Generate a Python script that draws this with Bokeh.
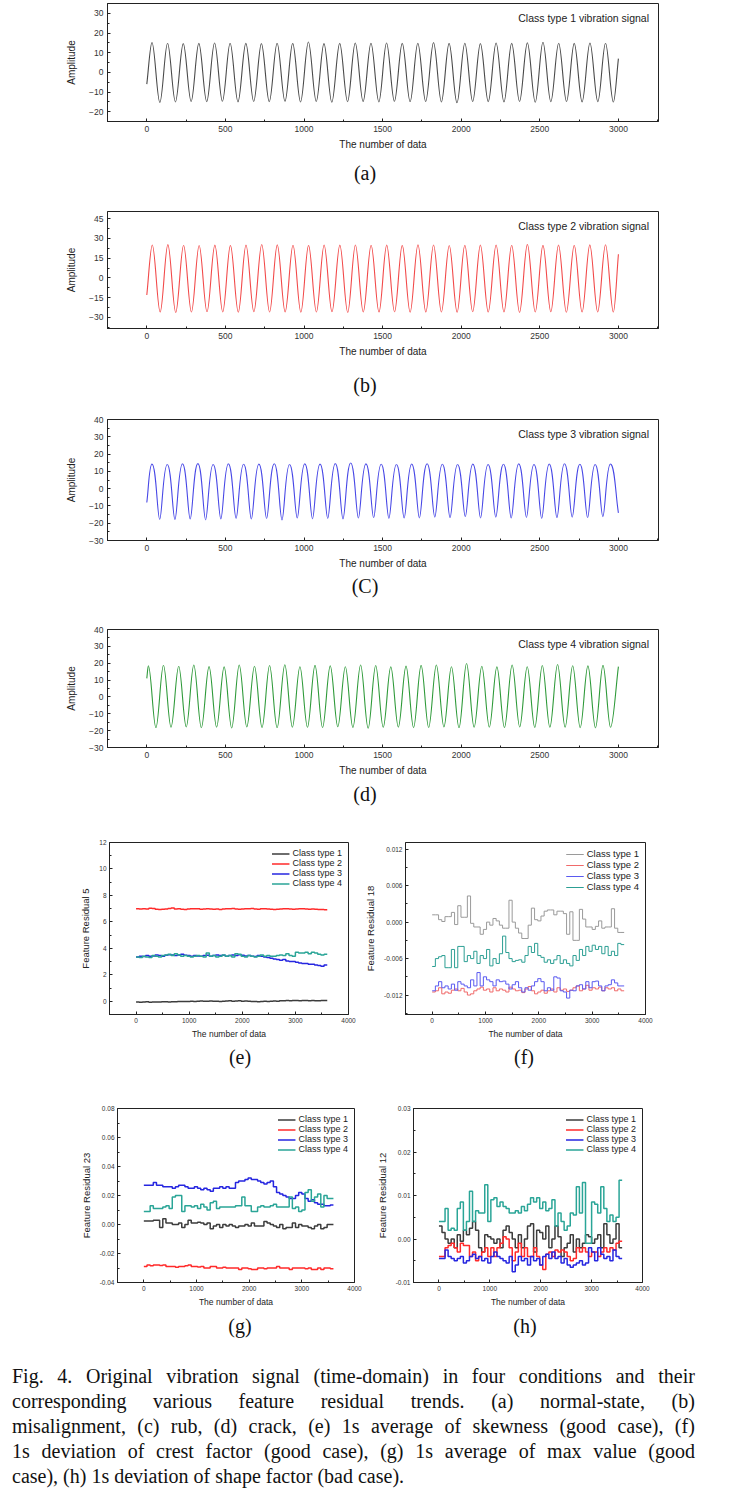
from bokeh.plotting import figure
from bokeh.models import Range1d, FixedTicker, PrintfTickFormatter, Legend, LegendItem, Div
from bokeh.layouts import column, row
from bokeh.embed import file_html
from bokeh.resources import INLINE

# ---------------- data: time-domain signals (extremes) ----------------
a_start, a_end = (0, -6), (3000, 7)
a_peak_x = [33, 132, 232, 331, 431, 530, 630, 729, 829, 928, 1028, 1127, 1227, 1326, 1426,
            1525, 1625, 1724, 1824, 1923, 2023, 2122, 2222, 2321, 2421, 2520, 2620, 2719, 2819, 2918]
a_peak_y = [15.2, 14.8, 14.6, 14.7, 14.9, 14.8, 14.7, 14.6, 14.8, 14.7, 15.4, 14.6, 14.7, 14.9, 14.8,
            14.9, 14.7, 14.8, 15.1, 14.7, 14.8, 14.6, 14.9, 14.7, 15.0, 15.3, 14.8, 14.7, 14.9, 14.8]
a_trough_x = [83, 182, 282, 381, 481, 580, 680, 779, 879, 978, 1078, 1177, 1277, 1376, 1476,
              1575, 1675, 1774, 1874, 1973, 2073, 2172, 2272, 2371, 2471, 2570, 2670, 2769, 2869, 2968]
a_trough_y = [-15.3, -15.0, -14.8, -14.9, -14.7, -15.0, -14.8, -14.9, -14.7, -15.0, -14.8, -15.2, -14.9, -14.8, -15.0,
              -14.7, -14.9, -14.8, -15.0, -15.5, -14.8, -14.9, -15.1, -14.8, -15.2, -14.9, -14.8, -15.0, -14.9, -15.1]

b_start, b_end = (0, -13), (3000, 18)
b_peak_x = [35, 134, 234, 333, 433, 532, 631, 731, 830, 930, 1029, 1128, 1228, 1327, 1427,
            1526, 1625, 1725, 1824, 1924, 2023, 2122, 2222, 2321, 2421, 2520, 2619, 2719, 2818, 2918]
b_peak_y = [25.0, 25.3, 24.8, 24.6, 24.9, 24.7, 25.0, 25.4, 25.1, 24.8, 24.7, 25.0, 24.9, 25.0, 24.8,
            24.9, 24.7, 25.2, 25.0, 24.6, 24.8, 24.9, 25.0, 24.8, 25.5, 24.7, 24.9, 24.8, 25.1, 25.2]
b_trough_x = [85, 184, 284, 383, 483, 582, 681, 781, 880, 980, 1079, 1178, 1278, 1377, 1477,
              1576, 1675, 1775, 1874, 1974, 2073, 2172, 2272, 2371, 2471, 2570, 2669, 2769, 2868, 2968]
b_trough_y = [-26.0, -26.3, -26.0, -25.8, -25.9, -26.1, -25.8, -26.0, -25.9, -26.1, -26.0, -25.8, -26.2, -25.9, -26.0,
              -25.8, -26.1, -26.0, -25.9, -26.1, -25.8, -26.0, -25.9, -26.2, -26.0, -25.8, -26.1, -26.0, -25.9, -26.0]

c_start, c_end = (0, -8), (3000, -14)
c_peak_x = [33, 130, 227, 325, 422, 519, 616, 713, 811, 908, 1005, 1102, 1199, 1297, 1394, 1491,
            1588, 1685, 1783, 1880, 1977, 2074, 2171, 2269, 2366, 2463, 2560, 2657, 2755, 2852, 2949]
c_peak_y = [14.2, 14.0, 14.3, 14.5, 14.0, 14.3, 14.1, 14.2, 14.4, 14.0, 14.3, 14.2, 14.5, 14.8, 14.3, 14.1,
            14.0, 14.2, 14.4, 14.1, 14.0, 14.2, 14.0, 14.1, 14.3, 14.0, 14.2, 14.4, 14.1, 14.0, 14.2]
c_trough_x = [82, 179, 276, 374, 471, 568, 665, 762, 860, 957, 1054, 1151, 1248, 1346, 1443,
              1540, 1637, 1734, 1832, 1929, 2026, 2123, 2220, 2318, 2415, 2512, 2609, 2706, 2804, 2901]
c_trough_y = [-17.8, -17.9, -17.6, -18.0, -17.5, -17.2, -17.6, -17.3, -18.1, -17.0, -17.4, -17.2, -17.5, -17.0, -16.8,
              -17.2, -17.0, -16.9, -16.5, -16.8, -16.2, -16.9, -16.5, -17.0, -16.6, -17.2, -16.8, -16.5, -16.7, -16.2]

d_start, d_end = (0, 11), (3000, 18)
d_peak_x = [10, 106, 203, 299, 396, 492, 588, 685, 781, 878, 974, 1070, 1167, 1263, 1360, 1456,
            1552, 1649, 1745, 1842, 1938, 2034, 2131, 2227, 2324, 2420, 2516, 2613, 2709, 2806, 2902]
d_peak_y = [18.5, 18.8, 18.2, 18.9, 18.0, 17.8, 18.9, 18.2, 18.6, 19.1, 17.9, 18.7, 18.4, 17.9, 18.9, 18.6,
            17.8, 18.3, 18.7, 18.9, 17.9, 19.8, 18.2, 17.8, 18.9, 17.9, 18.6, 19.2, 18.5, 18.4, 18.7]
d_trough_x = [58, 154, 251, 347, 444, 540, 636, 733, 829, 926, 1022, 1118, 1215, 1311, 1408, 1504,
              1600, 1697, 1793, 1890, 1986, 2082, 2179, 2275, 2372, 2468, 2564, 2661, 2757, 2854, 2950]
d_trough_y = [-18.2, -18.0, -17.8, -18.3, -17.9, -18.4, -17.8, -18.1, -18.3, -17.9, -18.0, -18.2, -17.7, -18.1, -18.6, -18.0,
              -17.9, -18.2, -18.1, -17.8, -18.3, -18.0, -17.9, -18.2, -17.8, -18.1, -18.0, -17.9, -18.2, -18.3, -18.0]

# ---------------- data: feature residual trends (one value per 60-sample step) ----------------
step_edges = list(range(0, 3601, 60))

e_c1 = [-0.05, -0.08, -0.05, -0.04, -0.08, -0.06, -0.05, -0.06, -0.04, -0.03, -0.05, -0.04, -0.03, -0.02, -0.01,
        -0.02, -0.01, 0.00, -0.02, 0.01, 0.02, 0.00, 0.01, 0.02, 0.01, 0.00, -0.01, 0.01, 0.02, 0.03,
        0.01, 0.02, 0.03, 0.01, 0.02, 0.00, -0.02, -0.01, -0.03, -0.02, 0.00, -0.01, 0.01, 0.02, 0.00,
        0.03, 0.04, 0.05, 0.03, 0.05, 0.06, 0.04, 0.06, 0.05, 0.04, 0.05, 0.03, 0.04, 0.06, 0.05]
e_c2 = [7.00, 6.98, 7.00, 6.97, 7.03, 7.02, 6.95, 6.93, 6.96, 6.98, 7.02, 7.04, 6.98, 7.00, 6.95,
        6.93, 6.97, 7.00, 6.99, 7.00, 6.96, 6.98, 7.00, 6.97, 6.95, 6.98, 6.93, 6.97, 6.99, 7.00,
        7.01, 6.98, 6.95, 6.97, 6.99, 7.00, 7.01, 6.98, 6.96, 6.99, 7.00, 6.97, 6.95, 6.93, 6.96,
        6.98, 7.00, 6.99, 6.97, 6.96, 6.98, 7.00, 6.99, 6.97, 6.96, 6.98, 6.95, 6.93, 6.94, 6.92]
e_c3 = [3.35, 3.40, 3.38, 3.45, 3.40, 3.42, 3.50, 3.45, 3.40, 3.48, 3.52, 3.50, 3.45, 3.50, 3.55,
        3.48, 3.45, 3.40, 3.45, 3.42, 3.40, 3.45, 3.48, 3.40, 3.45, 3.50, 3.45, 3.48, 3.40, 3.45,
        3.50, 3.45, 3.52, 3.48, 3.42, 3.45, 3.40, 3.38, 3.45, 3.40, 3.35, 3.30, 3.25, 3.20, 3.15,
        3.10, 3.15, 3.05, 3.00, 3.00, 2.95, 2.90, 2.85, 2.85, 2.80, 2.80, 2.75, 2.70, 2.65, 2.75]
e_c4 = [3.35, 3.30, 3.40, 3.35, 3.30, 3.45, 3.40, 3.35, 3.45, 3.50, 3.55, 3.45, 3.60, 3.50, 3.40,
        3.45, 3.40, 3.35, 3.40, 3.45, 3.40, 3.35, 3.65, 3.40, 3.45, 3.35, 3.40, 3.50, 3.40, 3.45,
        3.35, 3.60, 3.55, 3.40, 3.35, 3.45, 3.40, 3.35, 3.40, 3.50, 3.40, 3.45, 3.40, 3.40, 3.45,
        3.50, 3.45, 3.60, 3.45, 3.40, 3.70, 3.65, 3.65, 3.70, 3.60, 3.70, 3.65, 3.55, 3.50, 3.55]

f_c1 = [0.0012, 0.0012, 0.0004, 0.0001, 0.0009, 0.0009, 0.0016, -0.0004, 0.0027, 0.0008, 0.0008, 0.0043,
        -0.0002, -0.0008, -0.0008, -0.0020, -0.0012, 0.0000, -0.0005, 0.0006, 0.0002, -0.0005, -0.0010, -0.0010,
        0.0036, 0.0000, -0.0010, -0.0018, -0.0027, -0.0027, -0.0005, 0.0023, 0.0004, 0.0002, 0.0010, 0.0018,
        0.0020, 0.0020, 0.0012, 0.0018, 0.0018, 0.0014, -0.0020, 0.0017, -0.0030, -0.0030, 0.0021, 0.0005,
        -0.0008, -0.0008, -0.0012, -0.0007, 0.0002, -0.0010, -0.0008, -0.0008, 0.0022, -0.0010, -0.0017, -0.0017]
f_c2 = [-0.0115, -0.0113, -0.0108, -0.0118, -0.0115, -0.0117, -0.0112, -0.0110, -0.0113, -0.0109, -0.0115, -0.0120,
        -0.0118, -0.0113, -0.0110, -0.0107, -0.0112, -0.0110, -0.0115, -0.0108, -0.0113, -0.0110, -0.0112, -0.0115,
        -0.0107, -0.0110, -0.0113, -0.0112, -0.0116, -0.0110, -0.0106, -0.0113, -0.0118, -0.0115, -0.0112, -0.0117,
        -0.0113, -0.0110, -0.0115, -0.0108, -0.0112, -0.0110, -0.0114, -0.0112, -0.0108, -0.0105, -0.0113, -0.0110,
        -0.0104, -0.0112, -0.0108, -0.0110, -0.0107, -0.0113, -0.0108, -0.0110, -0.0108, -0.0113, -0.0110, -0.0113]
f_c3 = [-0.0113, -0.0105, -0.0098, -0.0108, -0.0105, -0.0110, -0.0102, -0.0112, -0.0098, -0.0102, -0.0105, -0.0108,
        -0.0095, -0.0105, -0.0083, -0.0105, -0.0090, -0.0095, -0.0098, -0.0105, -0.0095, -0.0098, -0.0097, -0.0102,
        -0.0110, -0.0103, -0.0098, -0.0108, -0.0115, -0.0108, -0.0112, -0.0105, -0.0098, -0.0093, -0.0098, -0.0113,
        -0.0108, -0.0112, -0.0090, -0.0092, -0.0113, -0.0115, -0.0125, -0.0112, -0.0113, -0.0105, -0.0103, -0.0110,
        -0.0098, -0.0108, -0.0098, -0.0097, -0.0105, -0.0113, -0.0105, -0.0103, -0.0095, -0.0100, -0.0105, -0.0105]
f_c4 = [-0.0073, -0.0060, -0.0057, -0.0055, -0.0075, -0.0075, -0.0045, -0.0075, -0.0040, -0.0040, -0.0065, -0.0055,
        -0.0060, -0.0048, -0.0068, -0.0055, -0.0060, -0.0045, -0.0072, -0.0060, -0.0068, -0.0052, -0.0023, -0.0050,
        -0.0060, -0.0065, -0.0063, -0.0062, -0.0066, -0.0055, -0.0040, -0.0050, -0.0035, -0.0055, -0.0058, -0.0066,
        -0.0062, -0.0068, -0.0062, -0.0055, -0.0068, -0.0062, -0.0068, -0.0072, -0.0055, -0.0063, -0.0045, -0.0055,
        -0.0040, -0.0048, -0.0038, -0.0045, -0.0040, -0.0052, -0.0040, -0.0055, -0.0048, -0.0055, -0.0035, -0.0037]

g_c1 = [0.0025, 0.0025, 0.0025, 0.0030, 0.0030, -0.0020, 0.0040, 0.0010, 0.0010, 0.0000, 0.0000, 0.0010,
        -0.0020, 0.0000, 0.0030, 0.0010, 0.0010, 0.0015, 0.0010, 0.0000, 0.0010, -0.0030, -0.0010, 0.0000,
        -0.0020, 0.0000, -0.0010, 0.0000, -0.0010, -0.0020, -0.0010, -0.0010, 0.0000, -0.0010, 0.0010, -0.0010,
        -0.0010, -0.0010, 0.0020, 0.0010, 0.0000, -0.0010, -0.0020, 0.0000, -0.0030, -0.0020, -0.0020, 0.0010,
        -0.0020, 0.0000, -0.0010, -0.0010, -0.0020, -0.0030, -0.0010, 0.0000, -0.0030, -0.0020, 0.0000, 0.0000]
g_c2 = [-0.0290, -0.0280, -0.0285, -0.0280, -0.0280, -0.0283, -0.0280, -0.0290, -0.0290, -0.0290, -0.0295, -0.0290,
        -0.0290, -0.0285, -0.0280, -0.0290, -0.0290, -0.0293, -0.0290, -0.0300, -0.0300, -0.0290, -0.0290, -0.0300,
        -0.0300, -0.0295, -0.0300, -0.0300, -0.0300, -0.0300, -0.0310, -0.0300, -0.0300, -0.0305, -0.0310, -0.0310,
        -0.0300, -0.0300, -0.0305, -0.0300, -0.0300, -0.0300, -0.0290, -0.0300, -0.0300, -0.0300, -0.0310, -0.0300,
        -0.0300, -0.0300, -0.0300, -0.0305, -0.0300, -0.0310, -0.0310, -0.0300, -0.0310, -0.0300, -0.0300, -0.0305]
g_c3 = [0.027, 0.027, 0.027, 0.029, 0.027, 0.027, 0.026, 0.026, 0.026, 0.025, 0.026, 0.027,
        0.027, 0.026, 0.025, 0.025, 0.026, 0.025, 0.024, 0.025, 0.024, 0.023, 0.025, 0.025,
        0.026, 0.025, 0.026, 0.025, 0.025, 0.029, 0.030, 0.030, 0.031, 0.032, 0.031, 0.031,
        0.030, 0.029, 0.028, 0.029, 0.030, 0.026, 0.022, 0.021, 0.020, 0.019, 0.018, 0.018,
        0.020, 0.022, 0.021, 0.018, 0.016, 0.017, 0.015, 0.014, 0.014, 0.013, 0.013, 0.0135]
g_c4 = [0.009, 0.009, 0.013, 0.011, 0.011, 0.011, 0.012, 0.013, 0.011, 0.019, 0.020, 0.020,
        0.009, 0.013, 0.013, 0.012, 0.013, 0.011, 0.014, 0.012, 0.010, 0.015, 0.016, 0.011,
        0.012, 0.012, 0.012, 0.012, 0.012, 0.013, 0.013, 0.019, 0.013, 0.013, 0.009, 0.009,
        0.012, 0.013, 0.012, 0.012, 0.013, 0.014, 0.012, 0.012, 0.012, 0.012, 0.019, 0.011,
        0.012, 0.009, 0.010, 0.022, 0.024, 0.016, 0.019, 0.021, 0.012, 0.020, 0.018, 0.018]

h_c1 = [0.0030, 0.0015, 0.0000, -0.0010, 0.0000, -0.0020, 0.0010, -0.0005, 0.0020, 0.0010, 0.0025, 0.0040,
        0.0020, -0.0020, -0.0030, 0.0010, 0.0005, 0.0000, -0.0010, 0.0000, -0.0020, 0.0020, 0.0030, 0.0015,
        0.0000, -0.0020, 0.0010, -0.0020, 0.0000, 0.0030, 0.0035, -0.0030, 0.0020, 0.0015, 0.0000, 0.0030,
        -0.0020, 0.0000, 0.0030, 0.0005, -0.0040, -0.0020, -0.0010, 0.0010, -0.0030, 0.0000, -0.0020, -0.0010,
        0.0010, 0.0005, -0.0010, 0.0000, 0.0010, -0.0020, 0.0035, 0.0010, -0.0010, 0.0000, 0.0035, -0.0020]
h_c2 = [-0.0040, -0.0040, -0.0020, -0.0015, -0.0010, -0.0020, -0.0030, -0.0010, -0.0015, -0.0015, -0.0040, -0.0030,
        -0.0050, -0.0040, -0.0030, -0.0020, -0.0040, -0.0020, -0.0040, -0.0020, -0.0010, 0.0005, 0.0000, -0.0020,
        -0.0050, -0.0030, -0.0010, -0.0040, -0.0020, -0.0040, -0.0040, -0.0020, -0.0040, -0.0060, -0.0070, -0.0035,
        -0.0030, -0.0040, -0.0025, -0.0030, -0.0025, -0.0030, -0.0040, -0.0050, -0.0045, -0.0020, -0.0030, -0.0020,
        -0.0030, -0.0040, -0.0030, -0.0030, -0.0040, -0.0030, -0.0020, -0.0030, -0.0020, -0.0025, -0.0010, -0.0005]
h_c3 = [-0.0045, -0.0045, -0.0025, -0.0040, -0.0045, -0.0050, -0.0045, -0.0040, -0.0055, -0.0050, -0.0040, -0.0035,
        -0.0045, -0.0040, -0.0050, -0.0045, -0.0055, -0.0040, -0.0030, -0.0040, -0.0045, -0.0050, -0.0055, -0.0040,
        -0.0075, -0.0060, -0.0040, -0.0050, -0.0045, -0.0060, -0.0040, -0.0050, -0.0045, -0.0060, -0.0040, -0.0035,
        -0.0045, -0.0030, -0.0045, -0.0040, -0.0055, -0.0045, -0.0060, -0.0065, -0.0060, -0.0055, -0.0050, -0.0060,
        -0.0055, -0.0020, -0.0030, -0.0050, -0.0020, -0.0035, -0.0045, -0.0040, -0.0050, -0.0025, -0.0040, -0.0045]
h_c4 = [0.0040, 0.0040, 0.0070, 0.0020, 0.0025, 0.0020, 0.0070, 0.0085, 0.0020, 0.0040, 0.0110, 0.0040,
        0.0065, 0.0060, 0.0060, 0.0125, 0.0040, 0.0090, 0.0095, 0.0075, 0.0085, 0.0075, 0.0070, 0.0060,
        0.0060, 0.0065, 0.0060, 0.0075, 0.0065, 0.0080, 0.0095, 0.0085, 0.0095, 0.0070, 0.0085, 0.0065,
        0.0070, 0.0090, 0.0030, 0.0060, 0.0040, 0.0020, 0.0030, 0.0060, 0.0055, 0.0120, 0.0060, 0.0130,
        -0.0010, -0.0010, 0.0085, 0.0080, 0.0060, 0.0120, 0.0070, 0.0040, 0.0055, 0.0040, 0.0050, 0.0135]

class_labels = ["Class type 1", "Class type 2", "Class type 3", "Class type 4"]
signal_labels = ["Class type 1 vibration signal", "Class type 2 vibration signal",
                 "Class type 3 vibration signal", "Class type 4 vibration signal"]
panel_tags = ["(a)", "(b)", "(C)", "(d)", "(e)", "(f)", "(g)", "(h)"]
caption_lines = [
    "Fig. 4. Original vibration signal (time-domain) in four conditions and their",
    "corresponding various feature residual trends. (a) normal-state, (b)",
    "misalignment, (c) rub, (d) crack, (e) 1s average of skewness (good case), (f)",
    "1s deviation of crest factor (good case), (g) 1s average of max value (good",
    "case), (h) 1s deviation of shape factor (bad case).",
]

SANS = "Liberation Sans"
SERIF = "Liberation Serif"
PAGE_W = 731
HOST = {"margin": "0", "padding": "0", "overflow": "hidden", "line-height": "0", "font-size": "0"}


def style_fig(p, tick_px, label_px, tick_std, lab_std_x, lab_std_y):
    p.xgrid.visible = False
    p.ygrid.visible = False
    p.outline_line_color = "#222222"
    p.outline_line_width = 1
    p.background_fill_color = "white"
    p.border_fill_color = "white"
    for ax in (p.xaxis[0], p.yaxis[0]):
        ax.axis_line_color = "#222222"
        ax.major_tick_line_color = "#222222"
        ax.minor_tick_line_color = "#222222"
        ax.major_tick_in = 3
        ax.major_tick_out = 0
        ax.minor_tick_in = 2
        ax.minor_tick_out = 0
        ax.major_label_text_font = SANS
        ax.major_label_text_font_size = tick_px
        ax.major_label_text_color = "#333333"
        ax.major_label_standoff = tick_std
        ax.axis_label_text_font = SANS
        ax.axis_label_text_font_size = label_px
        ax.axis_label_text_font_style = "normal"
        ax.axis_label_text_color = "#222222"
    p.xaxis.axis_label_standoff = lab_std_x
    p.yaxis.axis_label_standoff = lab_std_y


def make_fig(w, h, mbl, mbr, mbt, mbb, xr, yr):
    p = figure(width=w, height=h, x_range=Range1d(*xr), y_range=Range1d(*yr),
               output_backend="svg", toolbar_location=None, margin=0,
               min_border_left=mbl, min_border_right=mbr,
               min_border_top=mbt, min_border_bottom=mbb)
    return p


def wave_points(start, px, py, tx, ty, end):
    pts = [start]
    for i in range(max(len(px), len(tx))):
        if i < len(px):
            pts.append((px[i], py[i]))
        if i < len(tx):
            pts.append((tx[i], ty[i]))
    pts.append(end)
    return pts


def draw_wave(p, pts, color, f_peak=0.36, f_trough=0.36):
    seg = dict(x0=[], y0=[], x1=[], y1=[], cx0=[], cy0=[], cx1=[], cy1=[])
    n = len(pts)
    for i in range(n - 1):
        (xa, ya), (xb, yb) = pts[i], pts[i + 1]
        dx = xb - xa
        if i == 0:
            c0 = (xa + dx / 3, ya + (yb - ya) / 3)
        else:
            f = f_peak if ya > yb else f_trough
            c0 = (xa + f * dx, ya)
        if i + 1 == n - 1:
            c1 = (xb - dx / 3, yb - (yb - ya) / 3)
        else:
            f = f_peak if yb > ya else f_trough
            c1 = (xb - f * dx, yb)
        seg["x0"].append(xa); seg["y0"].append(ya)
        seg["x1"].append(xb); seg["y1"].append(yb)
        seg["cx0"].append(c0[0]); seg["cy0"].append(c0[1])
        seg["cx1"].append(c1[0]); seg["cy1"].append(c1[1])
    p.bezier(line_color=color, line_width=1.1, **seg)


def top_panel(w, h, mbl, mbr, mbt, mbb, yr, yticks, yminor, pts, color, label, f_peak=0.36, f_trough=0.36):
    p = make_fig(w, h, mbl, mbr, mbt, mbb, (-250, 3255), yr)
    style_fig(p, "8.5px", "10px", 4, 4, 9)
    p.xaxis.ticker = FixedTicker(ticks=[0, 500, 1000, 1500, 2000, 2500, 3000],
                                 minor_ticks=[-250, 250, 750, 1250, 1750, 2250, 2750, 3250])
    p.yaxis.ticker = FixedTicker(ticks=yticks, minor_ticks=yminor)
    p.xaxis.axis_label = "The number of data"
    p.yaxis.axis_label = "Amplitude"
    draw_wave(p, pts, color, f_peak, f_trough)
    dummy = p.line(x=[], y=[], line_color=color, line_width=1.1)
    leg = Legend(items=[LegendItem(label=label, renderers=[dummy])], location="top_right",
                 border_line_color=None, background_fill_alpha=0, margin=9, padding=3,
                 glyph_width=21, glyph_height=12, label_height=12, label_standoff=4,
                 label_text_font=SANS, label_text_font_size="10.5px", label_text_color="#222222")
    p.add_layout(leg)
    return p


CLASS_COLORS = ["#3c3c3c", "#ff2a2a", "#2626e0", "#2aa597"]
FAINT_COLORS = ["#9a9a9a", "#f06a6a", "#5a5af0", "#2c9f94"]


def bottom_panel(w, h, mbl, mbr, mbt, mbb, yr, yticks, yminor, fmt, series, ylabel, colors, lw, leg_px, leg_h):
    p = make_fig(w, h, mbl, mbr, mbt, mbb, (-500, 4000), yr)
    style_fig(p, "6.5px", "8.5px", 3, 3, 5)
    p.yaxis.axis_label_text_font_size = "9.5px"
    p.xaxis.ticker = FixedTicker(ticks=[0, 1000, 2000, 3000, 4000], minor_ticks=[-500, 500, 1500, 2500, 3500])
    p.yaxis.ticker = FixedTicker(ticks=yticks, minor_ticks=yminor)
    if fmt:
        p.yaxis.formatter = PrintfTickFormatter(format=fmt)
    p.xaxis.axis_label = "The number of data"
    p.yaxis.axis_label = ylabel
    items = []
    for vals, col, lab in zip(series, colors, class_labels):
        r = p.step(x=step_edges, y=vals + [vals[-1]], mode="after", line_color=col, line_width=lw)
        items.append(LegendItem(label=lab, renderers=[r]))
    leg = Legend(items=items, location="top_right", border_line_color=None, background_fill_alpha=0,
                 margin=6, padding=2, spacing=0, glyph_width=18, glyph_height=leg_h, label_height=leg_h,
                 label_standoff=3, label_text_font=SANS, label_text_font_size=leg_px,
                 label_text_color="#222222")
    p.add_layout(leg)
    return p


def tag_div(h, tags):
    spans = "".join(
        f'<span style="position:absolute;left:{x}px;top:0;transform:translateX(-50%);'
        f'line-height:{h}px;font-family:\'{SERIF}\';font-size:20px;color:#111;">{t}</span>'
        for x, t in tags)
    return Div(text=f'<div style="position:relative;display:block;width:{PAGE_W}px;height:{h}px;">{spans}</div>',
               width=PAGE_W, height=h, margin=0, styles=HOST)


pa = top_panel(PAGE_W, 154, 102, 69, 3, 33, (-25, 35), [-20, -10, 0, 10, 20, 30],
               [-25, -15, -5, 5, 15, 25, 35],
               wave_points(a_start, a_peak_x, a_peak_y, a_trough_x, a_trough_y, a_end), "#4a4a4a", signal_labels[0])
pb = top_panel(PAGE_W, 169, 107, 66, 19, 33, (-38.5, 50.5), [-30, -15, 0, 15, 30, 45],
               [-37.5, -22.5, -7.5, 7.5, 22.5, 37.5],
               wave_points(b_start, b_peak_x, b_peak_y, b_trough_x, b_trough_y, b_end), "#f24a4a", signal_labels[1])
pc = top_panel(PAGE_W, 163, 101, 73, 9, 33, (-30, 40), [-30, -20, -10, 0, 10, 20, 30, 40],
               [-25, -15, -5, 5, 15, 25, 35],
               wave_points(c_start, c_peak_x, c_peak_y, c_trough_x, c_trough_y, c_end), "#4848e6", signal_labels[2],
               f_peak=0.55, f_trough=0.3)
pd_ = top_panel(PAGE_W, 180, 105, 67, 29, 33, (-30, 40), [-30, -20, -10, 0, 10, 20, 30, 40],
                [-25, -15, -5, 5, 15, 25, 35],
                wave_points(d_start, d_peak_x, d_peak_y, d_trough_x, d_trough_y, d_end), "#2f9a3a", signal_labels[3])

pe = bottom_panel(362, 237, 109, 14, 34, 27, (-1, 12), [0, 2, 4, 6, 8, 10, 12], [-1, 1, 3, 5, 7, 9, 11], None,
                  [e_c1, e_c2, e_c3, e_c4], "Feature Residual 5", CLASS_COLORS, 1.5, "9px", 9)
pf = bottom_panel(369, 237, 43, 86, 33, 31, (-0.0152, 0.0131), [-0.012, -0.006, 0.0, 0.006, 0.012],
                  [-0.015, -0.009, -0.003, 0.003, 0.009], "%.3f",
                  [f_c1, f_c2, f_c3, f_c4], "Feature Residual 18", FAINT_COLORS, 1.0, "9.5px", 10)
pg = bottom_panel(364, 241, 117, 10, 37, 28, (-0.04, 0.08), [-0.04, -0.02, 0.0, 0.02, 0.04, 0.06, 0.08],
                  [-0.03, -0.01, 0.01, 0.03, 0.05, 0.07], "%.2f",
                  [g_c1, g_c2, g_c3, g_c4], "Feature Residual 23", CLASS_COLORS, 1.5, "9px", 9)
ph = bottom_panel(367, 241, 49, 89, 38, 29, (-0.01, 0.03), [-0.01, 0.0, 0.01, 0.02, 0.03],
                  [-0.005, 0.005, 0.015, 0.025], "%.2f",
                  [h_c1, h_c2, h_c3, h_c4], "Feature Residual 12", CLASS_COLORS, 1.5, "9px", 9)

words_html = ""
for i, line in enumerate(caption_lines):
    if i < len(caption_lines) - 1:
        inner = "".join(f"<span>{w}</span>" for w in line.split(" "))
        words_html += f'<div style="display:flex;justify-content:space-between;height:25px;line-height:25px;">{inner}</div>'
    else:
        words_html += f'<div style="height:25px;line-height:25px;white-space:nowrap;">{line}</div>'
caption = Div(
    text=(f'<div style="display:block;width:{PAGE_W - 24}px;padding:22px 12px 0 12px;font-family:\'{SERIF}\';'
          f'font-size:20px;line-height:25px;color:#111;">{words_html}</div>'),
    width=PAGE_W, height=148, margin=0, styles=HOST)

layout = column(
    pa, tag_div(38, [(365, panel_tags[0])]),
    pb, tag_div(49, [(365, panel_tags[1])]),
    pc, tag_div(27, [(365, panel_tags[2])]),
    pd_, tag_div(28, [(365, panel_tags[3])]),
    row(pe, pf, spacing=0, margin=0),
    tag_div(25, [(240, panel_tags[4]), (524, panel_tags[5])]),
    row(pg, ph, spacing=0, margin=0),
    tag_div(31, [(240, panel_tags[6]), (525, panel_tags[7])]),
    caption,
    spacing=0, margin=0,
)

open("out.html", "w").write(file_html(layout, INLINE, title="Fig. 4"))
